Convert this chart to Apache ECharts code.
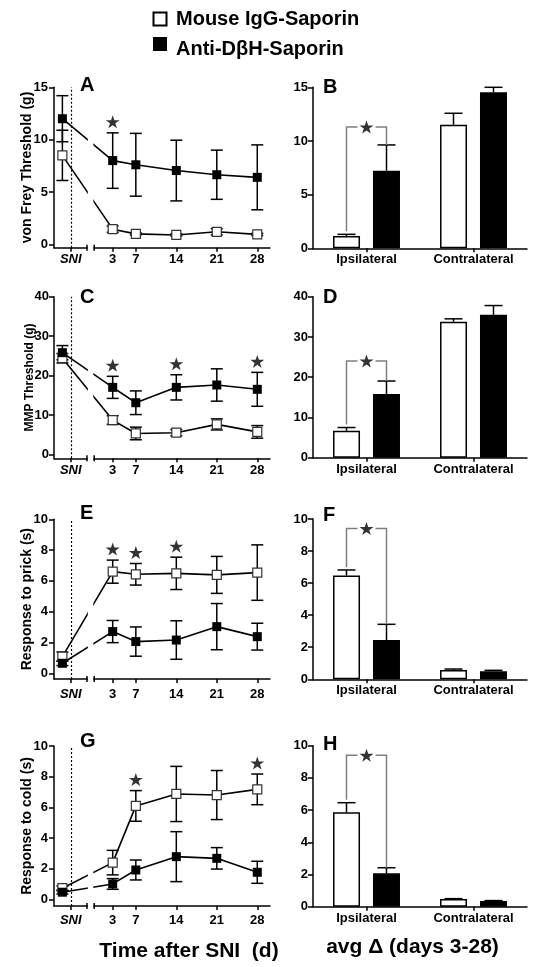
<!DOCTYPE html>
<html><head><meta charset="utf-8">
<script src="https://cdn.jsdelivr.net/npm/echarts@6/dist/echarts.min.js"></script>
<style>html,body{margin:0;padding:0;background:#fff}#c{width:536px;height:967px}</style>
</head><body><div id="c"></div><script>
// ---------------- data ----------------
const seriesNames = ['Mouse IgG-Saporin', 'Anti-D\u03b2H-Saporin'];
const baselineLabel = 'SNI';
const days = [3, 7, 14, 21, 28];
const sideCategories = ['Ipsilateral', 'Contralateral'];

// A: von Frey (first value = baseline before SNI, then days 3..28)
const vonFreyIgG    = [8.5, 1.45, 1.0, 0.9, 1.2, 0.95];
const vonFreyIgGSem = [2.4, 0.3, 0.1, 0.1, 0.3, 0.1];
const vonFreyDbh    = [12.0, 8.0, 7.6, 7.05, 6.65, 6.4];
const vonFreyDbhSem = [2.2, 2.65, 3.0, 2.9, 2.35, 3.1];
const vonFreySigDays = [3];
const vonFreyTicks = [0, 5, 10, 15];

// C: MMP
const mmpIgG    = [24.4, 8.7, 5.3, 5.5, 7.6, 5.7];
const mmpIgGSem = [1.2, 1.1, 1.6, 0.8, 1.4, 1.6];
const mmpDbh    = [25.8, 17.0, 13.1, 17.0, 17.6, 16.5];
const mmpDbhSem = [1.8, 2.8, 3.0, 3.2, 4.1, 4.3];
const mmpSigDays = [3, 14, 28];
const mmpTicks = [0, 10, 20, 30, 40];

// E: prick
const prickIgG    = [1.08, 6.6, 6.43, 6.49, 6.39, 6.54];
const prickIgGSem = [0.3, 0.75, 0.7, 1.05, 1.2, 1.8];
const prickDbh    = [0.65, 2.71, 2.06, 2.16, 3.03, 2.38];
const prickDbhSem = [0.15, 0.72, 0.95, 1.25, 1.5, 0.87];
const prickSigDays = [3, 7, 14];
const prickTicks = [0, 2, 4, 6, 8, 10];

// G: cold
const coldIgG    = [0.72, 2.39, 6.09, 6.87, 6.8, 7.17];
const coldIgGSem = [0.15, 0.8, 1.0, 1.8, 1.6, 1.0];
const coldDbh    = [0.46, 1.0, 1.91, 2.78, 2.67, 1.76];
const coldDbhSem = [0.12, 0.35, 0.65, 1.63, 0.7, 0.72];
const coldSigDays = [7, 28];
const coldTicks = [0, 2, 4, 6, 8, 10];

// B, D, F, H: avg delta (days 3-28), [Ipsilateral, Contralateral]
const vfAvgIgG = [1.15, 11.5],  vfAvgIgGSem = [0.15, 1.08];
const vfAvgDbh = [7.23, 14.54], vfAvgDbhSem = [2.4, 0.46];
const vfSigBracket = 11.3;

const mmpAvgIgG = [6.7, 33.8],  mmpAvgIgGSem = [0.8, 0.7];
const mmpAvgDbh = [15.8, 35.5], mmpAvgDbhSem = [3.25, 2.3];
const mmpSigBracket = 24.0;

const prickAvgIgG = [6.47, 0.58], prickAvgIgGSem = [0.35, 0.06];
const prickAvgDbh = [2.45, 0.5],  prickAvgDbhSem = [0.98, 0.06];
const prickSigBracket = 9.4;

const coldAvgIgG = [5.86, 0.48], coldAvgIgGSem = [0.6, 0.02];
const coldAvgDbh = [2.07, 0.35], coldAvgDbhSem = [0.35, 0.03];
const coldSigBracket = 9.4;

// ---------------- layout / style ----------------
const FONT = '"Liberation Sans", Arial, Helvetica, sans-serif';
const X_MIN = -7.15, X_MAX = 30.2;
const BASE_X = -5.7, SNI_X = -4.25, BREAK_START = -1.45, BREAK_END = -0.2;
const STAR = 'path://M50,0 L61.8,35.1 L98.9,35.1 L68.8,56.7 L80.2,91.9 L50,70.2 L19.8,91.9 L31.2,56.7 L1.1,35.1 L38.2,35.1 Z';
const lab = {color:'#000', fontFamily:FONT, fontWeight:'bold', fontSize:13};
const axLine = {show:true, onZero:false, lineStyle:{color:'#000', width:1.5}};

const linePanels = [
  {letter:'A', top:87.3, axisY:247.7, yMin:-0.32, yMax:15, name:'von Frey Threshold (g)', nameGap:20, nameSize:14, letterY:85, xMargin:5, yMargin:6,
   igg:vonFreyIgG, iggSem:vonFreyIgGSem, dbh:vonFreyDbh, dbhSem:vonFreyDbhSem, sig:vonFreySigDays, ticks:vonFreyTicks},
  {letter:'C', top:296.7, axisY:458.3, yMin:-1.0, yMax:40, name:'MMP Threshold (g)', nameGap:18, nameSize:12, letterY:297, xMargin:6, yMargin:5,
   igg:mmpIgG, iggSem:mmpIgGSem, dbh:mmpDbh, dbhSem:mmpDbhSem, sig:mmpSigDays, ticks:mmpTicks},
  {letter:'E', top:519.3, axisY:679, yMin:-0.37, yMax:10, name:'Response to prick (s)', nameGap:20, nameSize:14, letterY:513, xMargin:9, yMargin:6,
   igg:prickIgG, iggSem:prickIgGSem, dbh:prickDbh, dbhSem:prickDbhSem, sig:prickSigDays, ticks:prickTicks},
  {letter:'G', top:746, axisY:906, yMin:-0.44, yMax:10, name:'Response to cold (s)', nameGap:20, nameSize:14, letterY:741, xMargin:8, yMargin:6,
   igg:coldIgG, iggSem:coldIgGSem, dbh:coldDbh, dbhSem:coldDbhSem, sig:coldSigDays, ticks:coldTicks},
];
const barPanels = [
  {letter:'B', top:87.3, axisY:248.3, yMax:15, interval:5, letterY:87,
   igg:vfAvgIgG, iggSem:vfAvgIgGSem, dbh:vfAvgDbh, dbhSem:vfAvgDbhSem, bracket:vfSigBracket},
  {letter:'D', top:296.7, axisY:457.7, yMax:40, interval:10, letterY:297,
   igg:mmpAvgIgG, iggSem:mmpAvgIgGSem, dbh:mmpAvgDbh, dbhSem:mmpAvgDbhSem, bracket:mmpSigBracket},
  {letter:'F', top:519, axisY:679.3, yMax:10, interval:2, letterY:515,
   igg:prickAvgIgG, iggSem:prickAvgIgGSem, dbh:prickAvgDbh, dbhSem:prickAvgDbhSem, bracket:prickSigBracket},
  {letter:'H', top:745.7, axisY:906.7, yMax:10, interval:2, letterY:744,
   igg:coldAvgIgG, iggSem:coldAvgIgGSem, dbh:coldAvgDbh, dbhSem:coldAvgDbhSem, bracket:coldSigBracket},
];

function errLineRender(capHalf, color) {
  return function (params, api) {
    const x = api.value(0), lo = api.value(1), hi = api.value(2);
    const a = api.coord([x, lo]), b = api.coord([x, hi]);
    const st = {stroke: color, lineWidth: 1.5};
    return {type:'group', children:[
      {type:'line', shape:{x1:a[0], y1:a[1], x2:b[0], y2:b[1]}, style:st},
      {type:'line', shape:{x1:a[0]-capHalf, y1:a[1], x2:a[0]+capHalf, y2:a[1]}, style:st},
      {type:'line', shape:{x1:b[0]-capHalf, y1:b[1], x2:b[0]+capHalf, y2:b[1]}, style:st}
    ]};
  };
}
function errBarRender(offset, capHalf) {
  return function (params, api) {
    const c = api.value(0), m = api.value(1), t = api.value(2);
    const a = api.coord([c, m]), b = api.coord([c, t]);
    const x = a[0] + offset;
    const st = {stroke:'#000', lineWidth:1.5};
    return {type:'group', children:[
      {type:'line', shape:{x1:x, y1:a[1], x2:x, y2:b[1]}, style:st},
      {type:'line', shape:{x1:x-capHalf, y1:b[1], x2:x+capHalf, y2:b[1]}, style:st}
    ]};
  };
}
function bracketRender(off, starGap) {
  return function (params, api) {
    const c = api.value(0), top = api.value(1), l = api.value(2), r = api.value(3);
    const pt = api.coord([c, top]), pl = api.coord([c, l]), pr = api.coord([c, r]);
    const cx = pt[0], lx = cx - off, rx = cx + off;
    const st = {stroke:'#7f7f7f', lineWidth:1.5, fill:null};
    return {type:'group', children:[
      {type:'polyline', shape:{points:[[lx, pl[1]-3],[lx, pt[1]],[cx-starGap, pt[1]]]}, style:st},
      {type:'polyline', shape:{points:[[cx+starGap, pt[1]],[rx, pt[1]],[rx, pr[1]]]}, style:st}
    ]};
  };
}

const grid = [], xAxis = [], yAxis = [], series = [];
const xs = [BASE_X].concat(days);

linePanels.forEach((p, i) => {
  const gi = grid.length;
  grid.push({left:54, width:216, top:p.top, height:p.axisY - p.top, outerBoundsMode:'none'});
  xAxis.push({gridIndex:gi, type:'value', min:X_MIN, max:X_MAX, axisLine:axLine,
    splitLine:{show:false},
    axisTick:{show:true, customValues:[SNI_X].concat(days), length:4, lineStyle:{color:'#000', width:1.5}},
    axisLabel:Object.assign({}, lab, {customValues:[SNI_X].concat(days), margin:p.xMargin,
      formatter: v => v < 0 ? '{i|' + baselineLabel + '}' : String(Math.round(v)),
      rich:{i:{fontStyle:'italic', fontWeight:'bold', fontFamily:FONT, fontSize:13, color:'#000'}}})
  });
  yAxis.push({gridIndex:gi, type:'value', min:p.yMin, max:p.yMax, axisLine:axLine, splitLine:{show:false},
    axisTick:{show:true, customValues:p.ticks, length:5, lineStyle:{color:'#000', width:1.5}},
    axisLabel:Object.assign({}, lab, {customValues:p.ticks, margin:p.yMargin}),
    name:p.name, nameLocation:'middle', nameRotate:90, nameGap:p.nameGap, nameMoveOverlap:false,
    nameTextStyle:{color:'#000', fontFamily:FONT, fontWeight:'bold', fontSize:p.nameSize}
  });
  const errIgG = xs.map((x, k) => [x, p.igg[k] - p.iggSem[k], p.igg[k] + p.iggSem[k]]);
  const errDbh = xs.map((x, k) => [x, p.dbh[k] - p.dbhSem[k], p.dbh[k] + p.dbhSem[k]]);
  series.push({type:'custom', xAxisIndex:gi, yAxisIndex:gi, z:2, renderItem:errLineRender(6, '#000'),
    encode:{x:0, y:[1,2]}, data:errIgG, silent:true});
  series.push({type:'custom', xAxisIndex:gi, yAxisIndex:gi, z:2, renderItem:errLineRender(6, '#000'),
    encode:{x:0, y:[1,2]}, data:errDbh, silent:true});
  series.push({name:seriesNames[0], type:'line', xAxisIndex:gi, yAxisIndex:gi, z:4,
    data:xs.map((x, k) => [x, p.igg[k]]), symbol:'rect', symbolSize:9,
    itemStyle:{color:'#fff', borderColor:'#333', borderWidth:1.2}, lineStyle:{color:'#000', width:1.6},
    markLine:{silent:true, symbol:'none', label:{show:false}, animation:false,
      lineStyle:{color:'#000', type:[2,2], width:1.2}, data:[{xAxis:SNI_X}]}
  });
  series.push({name:seriesNames[1], type:'line', xAxisIndex:gi, yAxisIndex:gi, z:5,
    data:xs.map((x, k) => [x, p.dbh[k]]), symbol:'rect', symbolSize:9,
    itemStyle:{color:'#000', borderColor:'#000', borderWidth:0}, lineStyle:{color:'#000', width:1.6}
  });
  const stars = p.sig.map(d => {
    const k = xs.indexOf(d);
    return [d, Math.max(p.igg[k] + p.iggSem[k], p.dbh[k] + p.dbhSem[k])];
  });
  series.push({type:'scatter', xAxisIndex:gi, yAxisIndex:gi, z:6, symbol:STAR, symbolSize:[14,13],
    symbolOffset:[0,-11], itemStyle:{color:'#000'}, data:stars, silent:true});
});

barPanels.forEach((p, i) => {
  const gi = grid.length;
  grid.push({left:313, width:214, top:p.top, height:p.axisY - p.top, outerBoundsMode:'none'});
  xAxis.push({gridIndex:gi, type:'category', data:sideCategories, axisLine:axLine,
    axisTick:{show:true, alignWithLabel:true, length:4, lineStyle:{color:'#000', width:1.5}},
    axisLabel:Object.assign({}, lab, {margin:5})});
  yAxis.push({gridIndex:gi, type:'value', min:0, max:p.yMax, interval:p.interval, axisLine:axLine,
    splitLine:{show:false}, axisTick:{show:true, length:5, lineStyle:{color:'#000', width:1.5}},
    axisLabel:Object.assign({}, lab, {margin:5})});
  series.push({name:seriesNames[0], type:'bar', xAxisIndex:gi, yAxisIndex:gi, barWidth:27, barGap:'48%', z:2,
    data:p.igg, itemStyle:{color:'#fff', borderColor:'#000', borderWidth:1.5}});
  series.push({name:seriesNames[1], type:'bar', xAxisIndex:gi, yAxisIndex:gi, barWidth:27, barGap:'48%', z:2,
    data:p.dbh, itemStyle:{color:'#000', borderColor:'#000', borderWidth:1.5}});
  series.push({type:'custom', xAxisIndex:gi, yAxisIndex:gi, z:3, renderItem:errBarRender(-20, 9),
    encode:{x:0, y:[1,2]}, data:p.igg.map((v, k) => [k, v, v + p.iggSem[k]]), silent:true});
  series.push({type:'custom', xAxisIndex:gi, yAxisIndex:gi, z:3, renderItem:errBarRender(20, 9),
    encode:{x:0, y:[1,2]}, data:p.dbh.map((v, k) => [k, v, v + p.dbhSem[k]]), silent:true});
  series.push({type:'custom', xAxisIndex:gi, yAxisIndex:gi, z:4, renderItem:bracketRender(20, 9),
    encode:{x:0, y:[1,2,3]}, data:[[0, p.bracket, p.igg[0] + p.iggSem[0], p.dbh[0] + p.dbhSem[0]]], silent:true});
  series.push({type:'scatter', xAxisIndex:gi, yAxisIndex:gi, z:6, symbol:STAR, symbolSize:[14,13],
    itemStyle:{color:'#000'}, data:[[0, p.bracket]], silent:true});
});

const chart = echarts.init(document.getElementById('c'), null, {renderer:'canvas'});
chart.setOption({animation:false, backgroundColor:'#fff', grid, xAxis, yAxis, series});

// decorations: legend, panel letters, axis breaks, bottom titles
const g = [];
g.push({type:'rect', z:100, shape:{x:153.5, y:12.5, width:13, height:13}, style:{fill:'#fff', stroke:'#000', lineWidth:2}});
g.push({type:'rect', z:100, shape:{x:153, y:37, width:14, height:14}, style:{fill:'#000'}});
g.push({type:'text', z:100, x:176, y:19.5, style:{text:seriesNames[0], font:'bold 20px ' + FONT, fill:'#000', verticalAlign:'middle'}});
g.push({type:'text', z:100, x:176, y:49.5, style:{text:seriesNames[1], font:'bold 20px ' + FONT, fill:'#000', verticalAlign:'middle'}});
linePanels.forEach((p, i) => {
  const xa = chart.convertToPixel({xAxisIndex:i}, BREAK_START);
  const xb = chart.convertToPixel({xAxisIndex:i}, BREAK_END);
  g.push({type:'rect', z:90, shape:{x:xa + 0.9, y:p.top - 1, width:xb - xa - 1.8, height:p.axisY - p.top + 3}, style:{fill:'#fff'}});
  [xa, xb].forEach(x => g.push({type:'line', z:91, shape:{x1:x, y1:p.axisY - 3, x2:x, y2:p.axisY + 3}, style:{stroke:'#000', lineWidth:1.5}}));
  g.push({type:'text', z:100, x:80, y:p.letterY, style:{text:p.letter, font:'bold 20px ' + FONT, fill:'#000', verticalAlign:'middle'}});
});
barPanels.forEach(p => {
  g.push({type:'text', z:100, x:323, y:p.letterY, style:{text:p.letter, font:'bold 20px ' + FONT, fill:'#000', verticalAlign:'middle'}});
});
g.push({type:'text', z:100, x:189, y:951.5, style:{text:'Time after SNI  (d)', font:'bold 21px ' + FONT, fill:'#000', align:'center', verticalAlign:'middle'}});
g.push({type:'text', z:100, x:412.5, y:947, style:{text:'avg \u0394 (days 3-28)', font:'bold 21px ' + FONT, fill:'#000', align:'center', verticalAlign:'middle'}});
chart.setOption({graphic:{elements:g}});
</script></body></html>
